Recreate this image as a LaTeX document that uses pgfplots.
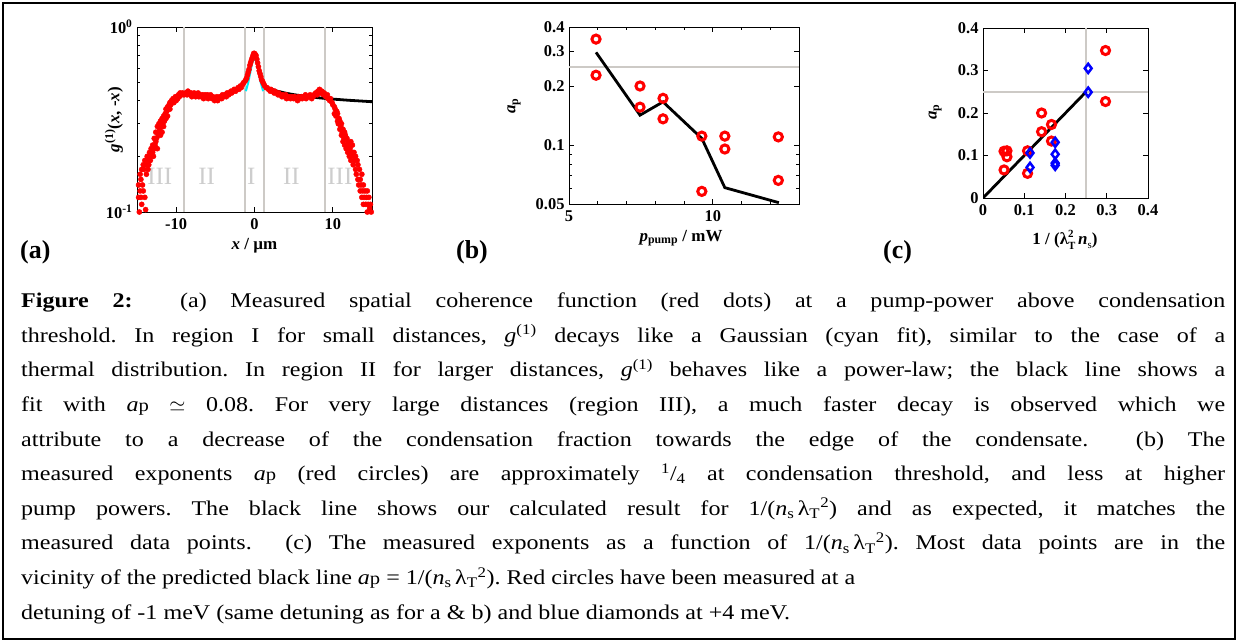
\documentclass[border=0pt]{standalone}
\usepackage{pgfplots}
\pgfplotsset{compat=1.18}
\usepackage{fontspec}
\setmainfont{Liberation Serif}
\newfontfamily\capfont[FakeStretch=1.15]{Liberation Serif}
\definecolor{reddot}{RGB}{255,0,0}
\definecolor{cyanfit}{RGB}{0,235,245}
\definecolor{gline}{RGB}{205,202,198}
\definecolor{gtext}{RGB}{205,205,205}
\pgfplotsset{
  panel/.style={scale only axis, anchor=south west,
    axis line style={line width=1bp}, every tick/.style={black, line width=0.7bp},
    major tick length=5bp, minor tick length=3bp,
    tick label style={font=\fontsize{16.5}{16.5}\selectfont\bfseries},
    label style={font=\fontsize{17}{17}\selectfont\bfseries},
    /pgf/number format/assume math mode=true,
    xticklabel style={yshift=-3bp},
    yticklabel style={xshift=-1bp},
  }
}
\newcommand\capline[2]{\node[anchor=base west, inner sep=0pt, font=\capfont\fontsize{21}{25}\selectfont\frenchspacing] at (21bp,-#1bp) {#2};}
\newcommand\jline[2]{\capline{#1}{\makebox[1204bp][s]{#2}}}
\newcommand\ap{\textit{a}{\fontsize{18}{18}\selectfont p}}
\newcommand\nl{(\textit{n}\textsubscript{s}\,λ\textsubscript{T}\textsuperscript{2})}
\begin{document}
\frenchspacing
\begin{tikzpicture}
\path[use as bounding box] (0,0) rectangle (1238bp,-642bp);
\draw[line width=1.6bp] (3bp,-3bp) rectangle (1235bp,-639bp);

% ---------------- (a)
\begin{axis}[panel, at={(137bp,-212bp)}, width=235bp, height=185bp,
  xmin=-15, xmax=15, ymin=0.1, ymax=1, ymode=log,
  xtick={-10,0,10}, xticklabels={-10,0,10},
  ytick={0.1,1}, yticklabels={10\textsuperscript{-1},10\textsuperscript{0}},
  xlabel={\textit{x} / µm},
  ylabel={\textit{g}\textsuperscript{(1)}(\textit{x}, -\textit{x})},
  xlabel style={at={(axis description cs:0.5,-0.184)}, anchor=center},
  ylabel style={at={(axis description cs:-0.098,0.5)}, anchor=center},
]
\addplot[gline, line width=1.5bp] coordinates {(-9,0.1)(-9,1)};
\addplot[gline, line width=1.5bp] coordinates {(-1.2,0.1)(-1.2,1)};
\addplot[gline, line width=1.5bp] coordinates {(1.2,0.1)(1.2,1)};
\addplot[gline, line width=1.5bp] coordinates {(9,0.1)(9,1)};
\node[gtext, font=\fontsize{25}{25}\selectfont] at (axis cs:-12.1,0.155) {III};
\node[gtext, font=\fontsize{25}{25}\selectfont] at (axis cs:-6.1,0.155) {II};
\node[gtext, font=\fontsize{25}{25}\selectfont] at (axis cs:-0.4,0.155) {I};
\node[gtext, font=\fontsize{25}{25}\selectfont] at (axis cs:4.7,0.155) {II};
\node[gtext, font=\fontsize{25}{25}\selectfont] at (axis cs:10.9,0.155) {III};
\addplot[only marks, mark=*, mark size=2.6bp, reddot, mark options={draw=reddot, fill=reddot}] coordinates {
(-14.8,0.12)(-14.8,0.14)(-14.7,0.10)(-14.6,0.13)(-14.6,0.16)(-14.5,0.15)(-14.5,0.12)(-14.4,0.17)(-14.4,0.11)
(-14.3,0.14)(-14.2,0.18)(-14.2,0.13)(-14.1,0.17)(-14.0,0.12)(-14.0,0.19)(-13.9,0.103)(-13.8,0.18)(-13.8,0.16)
(-13.7,0.20)(-13.6,0.19)(-13.6,0.17)(-13.5,0.18)(-13.4,0.20)(-13.4,0.21)(-13.3,0.19)(-13.2,0.22)(-13.2,0.20)
(-13.1,0.21)(-13.0,0.23)(-13.0,0.21)(-12.9,0.20)(-12.8,0.22)(-12.8,0.25)(-12.7,0.23)(-12.6,0.27)(-12.6,0.24)
(-12.5,0.25)(-12.4,0.29)(-12.4,0.22)(-12.3,0.26)(-12.2,0.30)(-12.2,0.27)(-12.1,0.28)(-12.0,0.26)(-12.0,0.31)
(-11.9,0.29)(-11.8,0.32)(-11.8,0.27)(-11.7,0.30)(-11.6,0.33)(-11.6,0.29)(-11.5,0.31)(-11.4,0.34)(-11.3,0.32)
(-11.3,0.36)(-11.2,0.35)(-11.1,0.33)(-11.1,0.37)(-11.0,0.36)(-10.9,0.38)(-10.8,0.36)(-10.8,0.39)(-10.7,0.38)
(-10.6,0.40)(-10.5,0.39)(-10.4,0.41)(-10.3,0.39)(-10.2,0.41)(-10.1,0.42)(-10.0,0.40)(-9.9,0.42)(-9.8,0.41)
(-9.7,0.43)(-9.6,0.42)(-9.5,0.44)(-9.4,0.43)(-9.3,0.43)(-9.2,0.44)(-9.0,0.43)(-8.8,0.44)(-8.6,0.43)(-8.5,0.45)
(-8.4,0.44)(-8.2,0.43)(-8.1,0.44)(-8.0,0.42)(-7.8,0.43)(-7.7,0.44)(-7.5,0.42)(-7.4,0.43)(-7.2,0.44)(-7.1,0.42)
(-6.9,0.43)(-6.8,0.42)(-6.6,0.43)(-6.5,0.41)(-6.3,0.43)(-6.2,0.42)(-6.0,0.43)(-5.9,0.41)(-5.7,0.42)(-5.6,0.43)
(-5.4,0.41)(-5.3,0.42)(-5.1,0.40)(-5.0,0.41)(-4.8,0.42)(-4.7,0.40)(-4.5,0.41)(-4.4,0.42)(-4.2,0.41)(-4.1,0.43)
(-3.9,0.42)(-3.8,0.43)(-3.6,0.42)(-3.5,0.44)(-3.3,0.43)(-3.2,0.44)(-3.0,0.45)(-2.9,0.44)(-2.7,0.45)(-2.6,0.46)
(-2.4,0.45)(-2.3,0.46)(-2.1,0.47)(-2.0,0.46)(-1.8,0.48)(-1.7,0.47)(-1.5,0.49)(-1.4,0.50)(-1.2,0.51)(-1.1,0.52)
(-1.0,0.53)(-0.9,0.55)(-0.8,0.57)(-0.7,0.59)(-0.6,0.62)(-0.5,0.64)(-0.4,0.66)(-0.3,0.68)(-0.2,0.70)(-0.1,0.72)
(0.0,0.72)(0.1,0.71)(0.2,0.70)(0.3,0.67)(0.4,0.64)(0.5,0.61)(0.6,0.58)(0.7,0.56)(0.8,0.54)(0.9,0.52)(1.0,0.51)
(1.1,0.50)(1.2,0.49)(1.3,0.48)(1.5,0.47)(1.6,0.47)(1.8,0.46)(2.0,0.45)(2.1,0.46)(2.3,0.45)(2.5,0.44)(2.6,0.45)
(2.8,0.44)(3.0,0.43)(3.1,0.44)(3.3,0.43)(3.5,0.42)(3.6,0.43)(3.8,0.42)(4.0,0.43)(4.1,0.41)(4.3,0.42)(4.5,0.42)
(4.6,0.41)(4.8,0.42)(5.0,0.41)(5.1,0.42)(5.3,0.41)(5.5,0.40)(5.6,0.42)(5.8,0.41)(6.0,0.42)(6.1,0.41)(6.3,0.42)
(6.5,0.43)(6.6,0.41)(6.8,0.42)(7.0,0.42)(7.1,0.43)(7.3,0.41)(7.5,0.42)(7.6,0.43)(7.8,0.44)(8.0,0.43)(8.1,0.45)
(8.3,0.46)(8.4,0.44)(8.6,0.45)(8.8,0.43)(8.9,0.44)(9.1,0.42)(9.3,0.43)(9.4,0.41)(9.6,0.40)(9.7,0.41)(9.9,0.39)
(10.0,0.38)(10.2,0.37)(10.2,0.34)(10.3,0.36)(10.4,0.33)(10.5,0.35)(10.6,0.31)(10.6,0.34)(10.7,0.30)(10.8,0.32)
(10.9,0.28)(10.9,0.31)(11.0,0.29)(11.1,0.26)(11.1,0.30)(11.2,0.27)(11.3,0.24)(11.3,0.28)(11.4,0.25)(11.5,0.27)
(11.5,0.23)(11.6,0.26)(11.7,0.22)(11.8,0.25)(11.9,0.21)(11.9,0.24)(12.0,0.23)(12.1,0.20)(12.2,0.22)(12.3,0.24)
(12.3,0.19)(12.4,0.21)(12.5,0.23)(12.6,0.20)(12.6,0.18)(12.7,0.21)(12.8,0.19)(12.9,0.17)(12.9,0.20)(13.0,0.16)
(13.1,0.19)(13.2,0.15)(13.2,0.18)(13.3,0.14)(13.4,0.17)(13.5,0.15)(13.5,0.13)(13.6,0.14)(13.7,0.12)(13.7,0.16)
(13.8,0.13)(13.9,0.11)(13.9,0.14)(14.0,0.12)(14.1,0.13)(14.2,0.11)(14.3,0.12)(14.4,0.10)(14.4,0.13)(14.5,0.11)
(14.6,0.12)(14.7,0.105)(14.8,0.11)(14.9,0.10)
};
\addplot[cyanfit, line width=2bp] coordinates {(-1.1,0.45)(-0.8,0.50)(-0.5,0.58)(-0.3,0.64)(0,0.68)(0.3,0.64)(0.5,0.58)(0.8,0.50)(1.1,0.45)};
\addplot[black, line width=2.8bp] coordinates {(1.3,0.48)(2,0.4637)(3,0.449)(4,0.4387)(5,0.431)(6,0.4247)(8,0.415)(10,0.4077)(12,0.4018)(15,0.3947)};
\end{axis}

% ---------------- (b)
\begin{axis}[panel, at={(569bp,-204bp)}, width=230bp, height=177bp,
  xmin=5, xmax=13, ymin=0.05, ymax=0.4, ymode=log,
  xtick={5,10}, xticklabels={5,10}, minor xtick={6,7,8,9,11,12},
  ytick={0.05,0.1,0.2,0.3,0.4}, yticklabels={0.05,0.1,0.2,0.3,0.4},
  minor ytick={0.06,0.07,0.08,0.09},
  xlabel={\textit{p}\textsubscript{pump} / mW},
  ylabel={\textit{a}\textsubscript{p}},
  xlabel style={at={(axis description cs:0.487,-0.192)}, anchor=center},
  ylabel style={at={(axis description cs:-0.239,0.554)}, anchor=center},
]
\addplot[gline, line width=1.5bp] coordinates {(5,0.25)(13,0.25)};
\addplot[black, line width=2.8bp] coordinates {(5.94,0.297)(7.47,0.142)(8.27,0.166)(9.62,0.108)(10.42,0.0606)(12.3,0.0508)};
\addplot[only marks, mark=o, mark size=4.1bp, reddot, line width=3bp] coordinates {
(5.94,0.347)(5.94,0.227)(7.47,0.200)(7.47,0.156)(8.27,0.173)(8.27,0.136)
(9.62,0.111)(9.62,0.058)(10.42,0.111)(10.42,0.0954)(12.28,0.110)(12.28,0.066)};
\end{axis}

% ---------------- (c)
\begin{axis}[panel, at={(983bp,-198bp)}, width=165bp, height=170bp,
  xmin=0, xmax=0.4, ymin=0, ymax=0.4,
  xtick={0,0.1,0.2,0.3,0.4}, xticklabels={0,0.1,0.2,0.3,0.4},
  ytick={0,0.1,0.2,0.3,0.4}, yticklabels={0,0.1,0.2,0.3,0.4},
  xlabel={1 / (λ\makebox[0pt][l]{\raisebox{7.5bp}{\fontsize{11}{11}\selectfont 2}}\raisebox{-5bp}{\fontsize{11}{11}\selectfont T}\,\textit{n}\raisebox{-4bp}{\fontsize{11}{11}\selectfont\mdseries s})},
  ylabel={\textit{a}\textsubscript{p}},
  xlabel style={at={(axis description cs:0.497,-0.245)}, anchor=center},
  ylabel style={at={(axis description cs:-0.29,0.506)}, anchor=center},
]
\addplot[gline, line width=1.5bp] coordinates {(0.25,0)(0.25,0.4)};
\addplot[gline, line width=1.5bp] coordinates {(0,0.25)(0.4,0.25)};
\addplot[black, line width=2.8bp] coordinates {(0,0)(0.25,0.25)};
\addplot[only marks, mark=o, mark size=4.1bp, reddot, line width=3bp] coordinates {
(0.297,0.347)(0.297,0.227)(0.142,0.200)(0.142,0.156)(0.166,0.173)(0.166,0.134)
(0.108,0.111)(0.108,0.058)(0.058,0.111)(0.058,0.097)(0.051,0.110)(0.051,0.066)};
\addplot[only marks, mark=diamond, mark size=4.6bp, blue, line width=2.5bp] coordinates {
(0.255,0.305)(0.255,0.249)(0.114,0.106)(0.114,0.072)(0.175,0.131)(0.175,0.103)(0.175,0.082)(0.175,0.077)};
\end{axis}

% panel letters
\node[anchor=base west, inner sep=0pt, font=\fontsize{26}{26}\selectfont\bfseries] at (20bp,-258bp) {(a)};
\node[anchor=base west, inner sep=0pt, font=\fontsize{26}{26}\selectfont\bfseries] at (456bp,-258bp) {(b)};
\node[anchor=base west, inner sep=0pt, font=\fontsize{26}{26}\selectfont\bfseries] at (883bp,-258bp) {(c)};

% caption
\jline{307.7}{\textbf{Figure 2:}\ \ (a) Measured spatial coherence function (red dots) at a pump-power above condensation}
\jline{342.3}{threshold. In region I for small distances, \textit{g}\textsuperscript{(1)} decays like a Gaussian (cyan fit), similar to the case of a}
\jline{376.9}{thermal distribution. In region II for larger distances, \textit{g}\textsuperscript{(1)} behaves like a power-law; the black line shows a}
\jline{411.5}{fit with \ap{} $\simeq$ 0.08. For very large distances (region III), a much faster decay is observed which we}
\jline{446.1}{attribute to a decrease of the condensation fraction towards the edge of the condensate.\ \ (b) The}
\jline{480.7}{measured exponents \ap{} (red circles) are approximately \textsuperscript{1}/\textsubscript{4}\ at condensation threshold, and less at higher}
\jline{515.3}{pump powers. The black line shows our calculated result for 1/\nl{} and as expected, it matches the}
\jline{549.9}{measured data points.\ \ (c) The measured exponents as a function of 1/\nl. Most data points are in the}
\capline{584.5}{vicinity of the predicted black line \ap{} = 1/\nl. Red circles have been measured at a}
\capline{619.1}{detuning of -1 meV (same detuning as for a \& b) and blue diamonds at +4 meV.}
\end{tikzpicture}
\end{document}
